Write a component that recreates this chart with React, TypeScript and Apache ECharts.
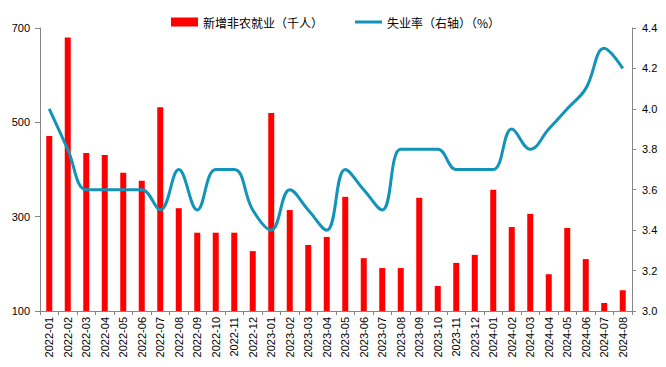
import React, { useEffect, useRef } from "react";
import * as echarts from "echarts";

const categories = [
  "2022-01","2022-02","2022-03","2022-04","2022-05","2022-06","2022-07","2022-08",
  "2022-09","2022-10","2022-11","2022-12","2023-01","2023-02","2023-03","2023-04",
  "2023-05","2023-06","2023-07","2023-08","2023-09","2023-10","2023-11","2023-12",
  "2024-01","2024-02","2024-03","2024-04","2024-05","2024-06","2024-07","2024-08",
];

const payrolls = [
  471, 680, 435, 431, 393, 376, 532, 318,
  266, 266, 266, 227, 520, 314, 240, 257,
  342, 212, 191, 191, 340, 153, 202, 219,
  357, 278, 306, 178, 276, 210, 117, 144,
];

const unemployment = [
  4.0, 3.8, 3.6, 3.6, 3.6, 3.6, 3.5, 3.7,
  3.5, 3.7, 3.7, 3.5, 3.4, 3.6, 3.5, 3.4,
  3.7, 3.6, 3.5, 3.8, 3.8, 3.8, 3.7, 3.7,
  3.7, 3.9, 3.8, 3.9, 4.0, 4.1, 4.3, 4.2,
];

const barName = "新增非农就业（千人）";
const lineName = "失业率（右轴）（%）";

const AXIS_COLOR = "#868686";
const TEXT_COLOR = "#000";
const LINE_COLOR = "#1194B8";
const NUM_FONT = "Liberation Sans";
const CJK_FONT = "Noto Sans CJK SC";

export default function App() {
  const ref = useRef<HTMLDivElement>(null);
  useEffect(() => {
    if (!ref.current) return;
    const chart = echarts.init(ref.current, undefined, { renderer: "svg" });
    chart.setOption({
      animation: false,
      legend: {
        left: 166,
        top: 11,
        itemWidth: 27,
        itemHeight: 9,
        itemGap: 32,
        itemTextGap: 1,
        textStyle: { fontSize: 12, color: TEXT_COLOR, fontFamily: CJK_FONT },
        data: [
          { name: barName, icon: "rect" },
          { name: lineName, icon: "path://M0,0H27V3H0Z", itemStyle: { color: LINE_COLOR } },
        ],
      },
      grid: { left: 40, right: 34, top: 28, bottom: 56, containLabel: false },
      xAxis: {
        type: "category",
        data: categories,
        boundaryGap: true,
        axisLine: { lineStyle: { color: AXIS_COLOR, width: 1 } },
        axisTick: { show: true, length: 4, alignWithLabel: false, lineStyle: { color: AXIS_COLOR } },
        axisLabel: {
          rotate: 90,
          interval: 0,
          margin: 6,
          fontSize: 11,
          color: TEXT_COLOR,
          fontFamily: NUM_FONT,
        },
        splitLine: { show: false },
      },
      yAxis: [
        {
          type: "value",
          min: 100,
          max: 700,
          interval: 200,
          axisLine: { show: true, lineStyle: { color: AXIS_COLOR } },
          axisTick: { show: true, length: 5, lineStyle: { color: AXIS_COLOR } },
          axisLabel: { fontSize: 11, color: TEXT_COLOR, fontFamily: NUM_FONT, margin: 10 },
          splitLine: { show: false },
        },
        {
          type: "value",
          min: 3.0,
          max: 4.4,
          interval: 0.2,
          position: "right",
          axisLine: { show: true, lineStyle: { color: AXIS_COLOR } },
          axisTick: { show: true, length: 4, lineStyle: { color: AXIS_COLOR } },
          axisLabel: {
            fontSize: 11,
            color: TEXT_COLOR,
            fontFamily: NUM_FONT,
            margin: 10,
            formatter: (v: number) => v.toFixed(1),
          },
          splitLine: { show: false },
        },
      ],
      series: [
        {
          name: barName,
          type: "bar",
          data: payrolls,
          barWidth: 6,
          itemStyle: { color: "#FF0000" },
          yAxisIndex: 0,
          z: 2,
        },
        {
          name: lineName,
          type: "line",
          data: unemployment,
          yAxisIndex: 1,
          smooth: 0.4,
          symbol: "none",
          showSymbol: false,
          lineStyle: { color: LINE_COLOR, width: 3 },
          itemStyle: { color: LINE_COLOR },
          z: 3,
        },
      ],
    });
    return () => chart.dispose();
  }, []);
  return <div ref={ref} style={{ width: 666, height: 367, position: "absolute", left: 0, top: 0 }} />;
}
